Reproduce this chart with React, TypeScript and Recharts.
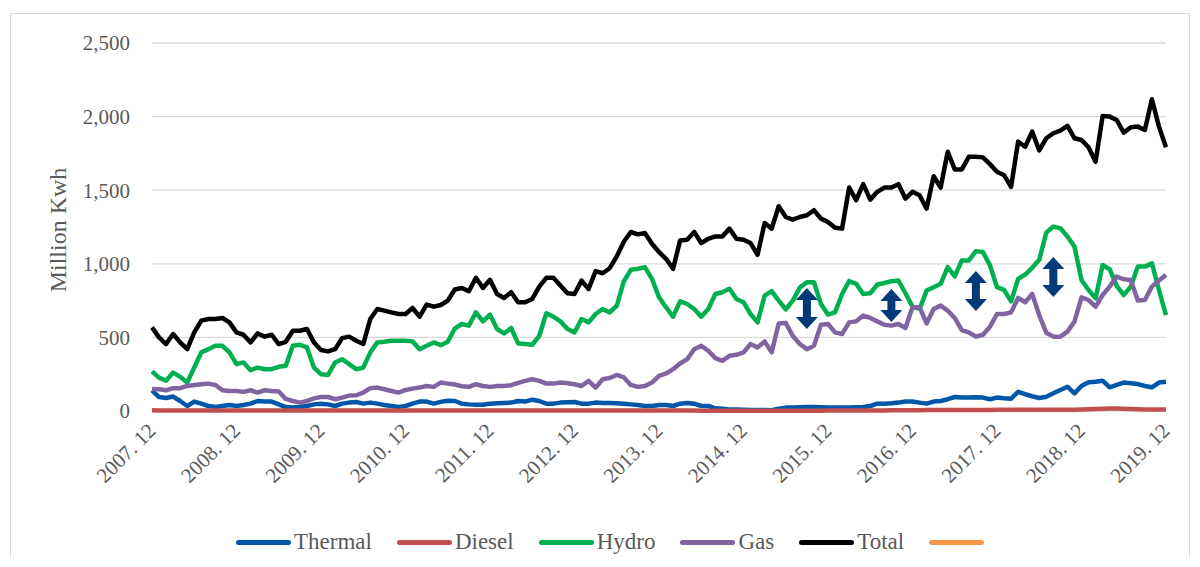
import React from 'react';
import { LineChart, Line, XAxis, YAxis, CartesianGrid, Legend, ReferenceLine, Label } from 'recharts';

const FONT = '"Liberation Serif", "Times New Roman", serif';
const TEXT = '#595959';

// monthly categories 2007.12 .. 2019.12
const firstYear = 2007;
const firstMonth = 12;
const monthCount = 145;
const months: string[] = Array.from({ length: monthCount }, (_, k) => {
  const m0 = firstMonth - 1 + k;
  return `${firstYear + Math.floor(m0 / 12)}. ${String((m0 % 12) + 1).padStart(2, '0')}`;
});

const yTicks = [0, 500, 1000, 1500, 2000, 2500];

const thermal = [
  140, 95, 88, 98, 68, 34, 64, 50, 34, 27, 34, 41,
  34, 41, 50, 68, 64, 64, 45, 27, 23, 27, 34, 45,
  50, 45, 34, 50, 57, 61, 50, 57, 50, 41, 34, 27,
  34, 50, 64, 64, 50, 62, 70, 68, 50, 45, 43, 43,
  50, 52, 55, 57, 68, 64, 77, 68, 50, 50, 57, 59,
  61, 50, 50, 57, 55, 55, 52, 50, 45, 41, 34, 34,
  41, 41, 34, 50, 55, 50, 34, 34, 18, 16, 11, 11,
  9, 7, 7, 7, 5, 16, 23, 23, 25, 27, 27, 25,
  23, 23, 23, 23, 25, 27, 34, 50, 50, 52, 57, 64,
  64, 57, 50, 64, 68, 80, 95, 91, 91, 93, 91, 80,
  91, 86, 84, 130, 114, 100, 88, 97, 120, 143, 165, 120,
  170, 195, 199, 206, 161, 177, 193, 188, 183, 170, 161, 193,
  199,
];

const diesel = [
  5, 4, 4, 3, 3, 3, 4, 4, 3, 3, 3, 3,
  4, 3, 3, 3, 3, 3, 3, 3, 4, 4, 3, 3,
  3, 3, 3, 3, 3, 3, 3, 4, 4, 3, 3, 3,
  3, 3, 3, 3, 3, 3, 3, 3, 3, 3, 3, 3,
  3, 3, 3, 3, 3, 3, 4, 4, 4, 3, 3, 3,
  3, 3, 3, 3, 3, 3, 3, 3, 3, 3, 3, 3,
  3, 3, 3, 3, 3, 3, 2, 2, 2, 2, 2, 2,
  2, 2, 2, 2, 2, 2, 2, 2, 2, 2, 2, 2,
  3, 3, 3, 3, 3, 4, 4, 4, 4, 5, 5, 5,
  5, 5, 6, 6, 6, 7, 7, 7, 7, 7, 7, 7,
  8, 8, 8, 8, 8, 8, 8, 8, 9, 9, 9, 9,
  10, 12, 14, 16, 17, 17, 16, 14, 12, 10, 10, 10,
  11,
];

const hydro = [
  268, 227, 205, 261, 232, 193, 295, 398, 420, 443, 443, 398,
  318, 330, 277, 295, 284, 284, 300, 307, 443, 450, 432, 295,
  250, 245, 330, 352, 318, 284, 295, 398, 466, 470, 477, 477,
  477, 473, 420, 443, 466, 447, 470, 560, 591, 580, 670, 609,
  655, 557, 527, 564, 459, 455, 450, 511, 664, 641, 609, 557,
  534, 625, 602, 659, 693, 670, 715, 880, 959, 966, 977, 898,
  773, 705, 641, 745, 727, 693, 641, 693, 795, 807, 830, 761,
  739, 659, 602, 784, 814, 750, 690, 750, 838, 875, 875, 727,
  655, 670, 795, 882, 864, 795, 800, 859, 870, 882, 886, 800,
  709, 693, 818, 841, 864, 977, 914, 1023, 1023, 1086, 1080, 989,
  841, 823, 745, 898, 927, 973, 1027, 1212, 1253, 1241, 1185, 1117,
  890, 822, 765, 992, 963, 850, 788, 845, 981, 981, 1003, 822,
  652,
];

const gas = [
  150, 148, 141, 155, 155, 170, 177, 182, 186, 177, 141, 136,
  136, 130, 141, 125, 141, 136, 133, 82, 68, 57, 68, 86,
  95, 95, 80, 91, 105, 107, 125, 155, 159, 148, 136, 125,
  143, 152, 159, 170, 164, 193, 186, 180, 168, 164, 182, 170,
  164, 170, 170, 175, 191, 205, 216, 205, 186, 186, 193, 189,
  182, 170, 205, 159, 216, 224, 245, 228, 177, 164, 170, 193,
  239, 255, 284, 323, 352, 420, 443, 409, 359, 341, 375, 382,
  398, 455, 432, 473, 398, 595, 598, 510, 455, 420, 443, 586,
  591, 534, 523, 602, 609, 648, 632, 609, 586, 580, 591, 564,
  705, 705, 595, 693, 716, 682, 632, 550, 534, 505, 518, 573,
  659, 659, 670, 768, 739, 795, 650, 532, 505, 505, 539, 607,
  772, 754, 709, 788, 845, 913, 895, 890, 750, 754, 845, 886,
  924,
];

const total = [
  568, 500, 455, 523, 466, 420, 534, 614, 625, 625, 632, 602,
  534, 518, 466, 527, 505, 518, 455, 470, 545, 545, 557, 466,
  414, 405, 420, 495, 505, 477, 455, 625, 693, 682, 670, 659,
  659, 700, 641, 723, 709, 720, 750, 825, 836, 814, 905, 836,
  891, 795, 768, 807, 739, 739, 761, 845, 905, 905, 852, 800,
  795, 886, 829, 950, 936, 970, 1050, 1150, 1216, 1200, 1209, 1136,
  1080, 1034, 966, 1159, 1164, 1216, 1141, 1170, 1186, 1186, 1239, 1170,
  1164, 1141, 1061, 1277, 1239, 1391, 1318, 1300, 1318, 1330, 1364, 1307,
  1284, 1245, 1239, 1518, 1432, 1541, 1436, 1489, 1518, 1518, 1541, 1443,
  1489, 1466, 1375, 1595, 1518, 1761, 1641, 1641, 1727, 1727, 1723, 1677,
  1625, 1602, 1523, 1830, 1795, 1898, 1770, 1853, 1887, 1905, 1937, 1853,
  1841, 1792, 1694, 2004, 2000, 1977, 1891, 1928, 1932, 1909, 2118, 1932,
  1792,
];

// double-headed arrows marking the hydro / gas gap
const arrowMonths = ['2015. 09', '2016. 09', '2017. 09', '2018. 08'];
const arrowTop = [836, 829, 951, 1046];
const arrowBottom = [557, 605, 679, 774];

const legendOrder = ['thermal', 'diesel', 'hydro', 'gas', 'total', 'other'];

const data = months.map((month, i) => ({
  month,
  thermal: thermal[i],
  diesel: diesel[i],
  hydro: hydro[i],
  gas: gas[i],
  total: total[i],
}));

const DoubleArrow = (props: any) => {
  const { x1, y1, x2, y2 } = props;
  const cx = (x1 + x2) / 2;
  const top = Math.min(y1, y2);
  const bot = Math.max(y1, y2);
  const hw = 11;
  const head = 12;
  const sw = 4;
  const d = `M${cx},${top} L${cx + hw},${top + head} L${cx + sw},${top + head} L${cx + sw},${bot - head} L${cx + hw},${bot - head} L${cx},${bot} L${cx - hw},${bot - head} L${cx - sw},${bot - head} L${cx - sw},${top + head} L${cx - hw},${top + head} Z`;
  return <path d={d} fill="#003A78" />;
};

const MonthTick = ({ x, y, payload }: any) => {
  const tx = x + 5;
  const ty = y + 13;
  return (
    <text x={tx} y={ty} transform={`rotate(-45, ${tx}, ${ty})`} textAnchor="end" fill={TEXT} fontSize={21} fontFamily={FONT}>
      {payload.value}
    </text>
  );
};

const LegendContent = ({ payload }: any) => {
  const items = [...(payload || [])].sort(
    (a: any, b: any) => legendOrder.indexOf(a.dataKey) - legendOrder.indexOf(b.dataKey)
  );
  return (
    <div style={{ display: 'flex', alignItems: 'center', height: 40, paddingLeft: 225, fontFamily: FONT }}>
      {items.map((entry: any) => (
        <div key={entry.dataKey} style={{ display: 'flex', alignItems: 'center', marginRight: 25 }}>
          <span style={{ display: 'inline-block', width: 55, height: 5, borderRadius: 3, background: entry.color }} />
          <span style={{ fontSize: 23, color: TEXT, marginLeft: 3 }}>{entry.value}</span>
        </div>
      ))}
    </div>
  );
};

export default function App() {
  return (
    <div style={{ position: 'relative', top: 5, left: 2, width: 1180, height: 550, border: '1px solid #D9D9D9', boxSizing: 'border-box', background: '#fff' }}>
      <LineChart width={1178} height={548} data={data} margin={{ top: 29, right: 23, left: 0, bottom: 0 }}>
        <CartesianGrid vertical={false} stroke="#D9D9D9" strokeWidth={1.3} />
        <XAxis
          dataKey="month"
          interval={11}
          tickLine={false}
          axisLine={false}
          height={111}
          tick={<MonthTick />}
        />
        <YAxis
          domain={[0, 2500]}
          ticks={yTicks}
          width={141}
          tickLine={false}
          axisLine={false}
          tickMargin={16}
          tick={{ fill: TEXT, fontSize: 21, fontFamily: FONT }}
          tickFormatter={(v: number) => v.toLocaleString('en-US')}
        >
          <Label
            content={({ viewBox }: any) => {
              const cx = viewBox.x + 47;
              const cy = viewBox.y + viewBox.height / 2 + 3;
              return (
                <text x={cx} y={cy} transform={`rotate(-90, ${cx}, ${cy})`} textAnchor="middle" dominantBaseline="central" fill={TEXT} fontSize={24} fontFamily={FONT}>
                  Million Kwh
                </text>
              );
            }}
          />
        </YAxis>
        <Legend verticalAlign="bottom" content={<LegendContent />} />
        <Line dataKey="thermal" name="Thermal" stroke="#0057A8" strokeWidth={4.5} dot={false} isAnimationActive={false} strokeLinejoin="round" />
        <Line dataKey="diesel" name="Diesel" stroke="#C0504D" strokeWidth={4.5} dot={false} isAnimationActive={false} strokeLinejoin="round" />
        <Line dataKey="hydro" name="Hydro" stroke="#00B050" strokeWidth={4.5} dot={false} isAnimationActive={false} strokeLinejoin="round" />
        <Line dataKey="gas" name="Gas" stroke="#8064A2" strokeWidth={4.5} dot={false} isAnimationActive={false} strokeLinejoin="round" />
        <Line dataKey="total" name="Total" stroke="#000000" strokeWidth={4.5} dot={false} isAnimationActive={false} strokeLinejoin="round" />
        <Line dataKey="other" name="" stroke="#F79646" strokeWidth={4.5} dot={false} isAnimationActive={false} />
        {arrowMonths.map((m, i) => (
          <ReferenceLine
            key={m}
            segment={[{ x: m, y: arrowTop[i] }, { x: m, y: arrowBottom[i] }]}
            shape={<DoubleArrow />}
          />
        ))}
      </LineChart>
    </div>
  );
}
